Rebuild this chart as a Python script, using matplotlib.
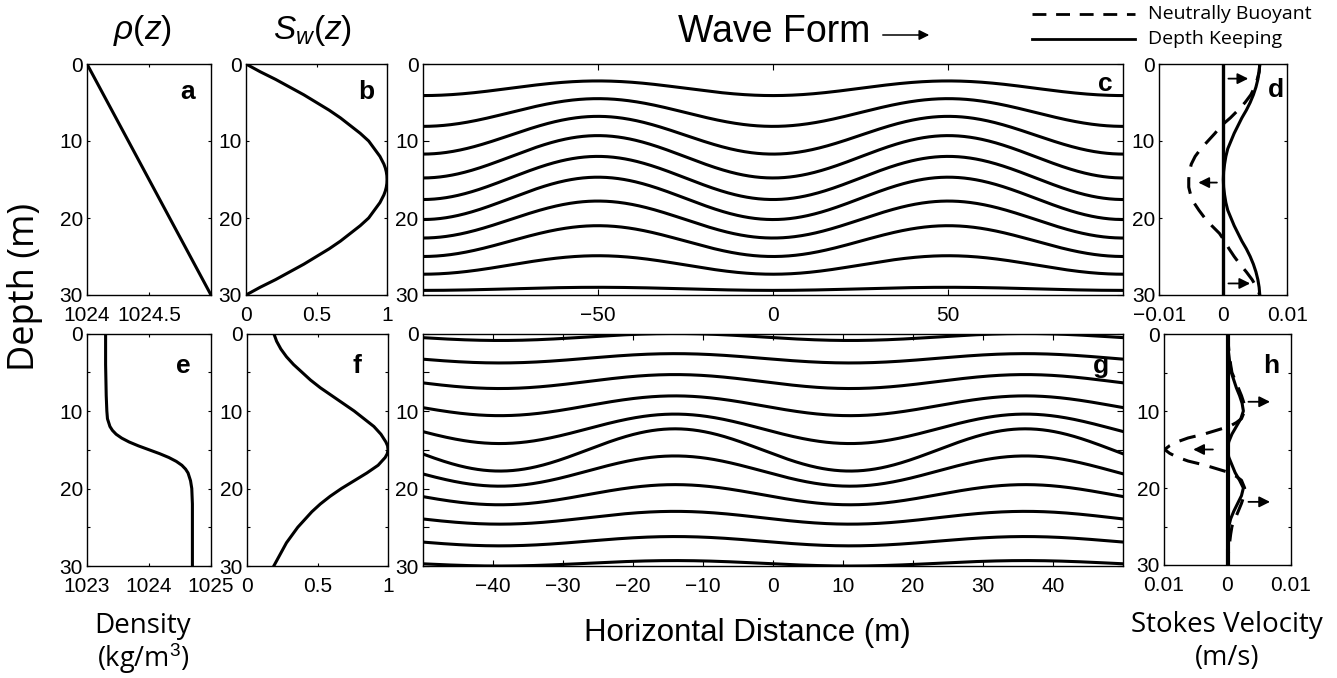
import matplotlib
matplotlib.use('Agg')
import matplotlib.pyplot as plt
import numpy as np
from matplotlib.lines import Line2D
from matplotlib.patches import FancyArrowPatch

plt.rcParams['font.family'] = ['Liberation Sans', 'DejaVu Sans']
plt.rcParams['mathtext.fontset'] = 'custom'
plt.rcParams['mathtext.rm'] = 'Liberation Sans'
plt.rcParams['mathtext.it'] = 'Liberation Sans:italic'

# ---------------- data ----------------
# panel a: linear density
a_depth = [0, 30]
a_density = [1024.0, 1025.0]

# panel b: vertical structure S_w(z)
b_depth = [0, 1, 2, 3, 4, 5, 6, 7, 8, 9, 10, 11, 12, 13, 13.5, 14, 14.5, 15,
           15.5, 16, 16.5, 17, 18, 19, 20, 21, 22, 23, 24, 25, 26, 27, 28, 29, 30]
b_sw = [0.00, 0.10, 0.21, 0.31, 0.41, 0.50, 0.59, 0.67, 0.74, 0.81, 0.87,
        0.91, 0.95, 0.978, 0.988, 0.995, 0.999, 1.00, 0.999, 0.995, 0.988,
        0.978, 0.95, 0.91, 0.87, 0.81, 0.74, 0.67, 0.59, 0.50, 0.41, 0.31,
        0.21, 0.10, 0.00]

# panel c: isopycnal displacement, crest / trough depths per line
c_crest_depth = [2.2, 4.5, 6.8, 9.3, 12.0, 14.7, 17.8, 21.0, 24.9, 29.0]
c_trough_depth = [4.1, 8.1, 11.7, 14.8, 17.6, 20.2, 22.6, 25.0, 27.3, 29.4]
c_wavelength = 100.0
c_trough_x = 0.0

# panel d: Stokes velocity (m/s)
d_depth = [0, 1, 2, 3, 4, 5, 6, 7, 8, 9, 10, 11, 12, 13, 14, 15,
           16, 17, 18, 19, 20, 21, 22, 23, 24, 25, 26, 27, 28, 29, 30]
d_depth_keeping = [0.0057, 0.0056, 0.0054, 0.0051, 0.0047, 0.0042, 0.0036,
                   0.0029, 0.0023, 0.0017, 0.0012, 0.0007, 0.0004, 0.0002,
                   0.00005, 0.0, 0.00005, 0.0002, 0.0004, 0.0007, 0.0012,
                   0.0017, 0.0023, 0.0029, 0.0036, 0.0042, 0.0047, 0.0051,
                   0.0054, 0.0056, 0.0057]
d_neutral = [0.0057, 0.0056, 0.0053, 0.0049, 0.0043, 0.0034, 0.0023, 0.0011,
             -0.0003, -0.0013, -0.0024, -0.0035, -0.0044, -0.0050, -0.0053,
             -0.0054, -0.0054, -0.0051, -0.0046, -0.0038, -0.0029, -0.0018,
             -0.0006, 0.0002, 0.0009, 0.0017, 0.0026, 0.0036, 0.0045,
             0.0052, 0.0057]

# panel e: pycnocline density
e_depth = [0, 4, 8, 10, 11, 12, 12.5, 13, 13.5, 14, 14.5, 15, 15.5, 16,
           16.5, 17, 17.5, 18, 19, 20, 22, 26, 30]
e_density = [1023.30, 1023.30, 1023.31, 1023.32, 1023.33, 1023.37, 1023.41,
             1023.47, 1023.56, 1023.68, 1023.83, 1024.00, 1024.17, 1024.32,
             1024.44, 1024.53, 1024.59, 1024.63, 1024.67, 1024.69, 1024.70,
             1024.70, 1024.70]

# panel f: S_w(z) for the pycnocline case
f_depth = [0, 1, 2, 3, 4, 5, 6, 7, 8, 9, 10, 11, 12, 13, 14, 14.5, 15, 15.5,
           16, 17, 18, 19, 20, 21, 22, 23, 24, 25, 26, 27, 28, 29, 30]
f_sw = [0.19, 0.21, 0.24, 0.28, 0.33, 0.39, 0.45, 0.52, 0.60, 0.68, 0.76,
        0.83, 0.90, 0.95, 0.985, 0.997, 1.00, 0.995, 0.98, 0.93, 0.85, 0.76,
        0.67, 0.59, 0.52, 0.46, 0.41, 0.36, 0.32, 0.28, 0.25, 0.22, 0.19]

# panel g: isopycnal displacement, crest / trough depths per line
g_crest_depth = [0.0, 2.6, 5.3, 8.05, 10.4, 12.3, 15.8, 19.5, 22.95, 26.2, 29.3]
g_trough_depth = [0.9, 3.8, 7.1, 10.6, 14.2, 17.75, 19.7, 22.1, 24.6, 27.4, 30.0]
g_wavelength = 50.0
g_trough_x = 11.0

# panel h: Stokes velocity (m/s)
h_dk_depth = [0, 2, 4, 5, 6, 7, 8, 9, 10, 11, 12, 13, 14, 15, 16, 17, 18,
              19, 20, 21, 22, 23, 24, 25, 26, 28, 30]
h_depth_keeping = [0, 0.0001, 0.0004, 0.0006, 0.0010, 0.0014, 0.0019, 0.0023,
                   0.0025, 0.0021, 0.0014, 0.0007, 0.0002, 0.0, 0.0002, 0.0007,
                   0.0012, 0.0019, 0.0025, 0.0022, 0.0016, 0.0010, 0.0005,
                   0.0002, 0.0001, 0.0, 0.0]
h_nb_depth = [0, 2, 4, 5, 6, 7, 8, 9, 10, 11, 11.5, 12, 12.5, 13, 13.5, 14,
              14.5, 15, 15.5, 16, 16.5, 17, 17.5, 18, 18.5, 19, 20, 21, 22,
              23, 24, 25, 26, 28, 30]
h_neutral = [0, 0.0002, 0.0005, 0.0007, 0.0012, 0.0017, 0.0022, 0.0026,
             0.0027, 0.0022, 0.0014, 0.0003, -0.0017, -0.0037, -0.0062,
             -0.0079, -0.0091, -0.0099, -0.0091, -0.0079, -0.0062, -0.0037,
             -0.0017, 0.0003, 0.0014, 0.0022, 0.0027, 0.0026, 0.0022,
             0.0017, 0.0012, 0.0007, 0.0005, 0.0002, 0]

# Stokes-drift direction arrows: (tail_u, head_u, depth)
d_arrows = [(0.0008, 0.0039, 1.9), (-0.0010, -0.0039, 15.4), (0.0008, 0.0042, 28.5)]
h_arrows = [(0.0033, 0.0067, 8.8), (-0.0023, -0.0054, 15.0), (0.0033, 0.0067, 21.8)]

# ---------------- figure ----------------
W, H = 1337, 678
fig = plt.figure(figsize=(W / 100, H / 100), dpi=100)


def ax_at(l, r, t, b):
    return fig.add_axes([l / W, 1 - b / H, (r - l) / W, (b - t) / H])


def fx(px):
    return px / W


def fy(py):
    return 1 - py / H


LW = 2.2
DASH = (5.5, 3.5)
TICKFS = 15


def style(ax, ticklen, bottom_row):
    ax.set_ylim(30, 0)
    ax.tick_params(direction='in', top=True, right=True, length=ticklen,
                   width=0.8, labelsize=TICKFS)
    ax.tick_params(axis='x', pad=8)
    ax.tick_params(axis='y', pad=3)
    for s in ax.spines.values():
        s.set_linewidth(1.0)
    if bottom_row:
        ax.set_yticks([0, 5, 10, 15, 20, 25, 30])
        ax.set_yticklabels(['0', '', '10', '', '20', '', '30'])
    else:
        ax.set_yticks([0, 10, 20, 30])
        ax.set_yticklabels(['0', '10', '20', '30'])


def label(txt, x, y):
    fig.text(fx(x), fy(y), txt, fontsize=19, fontweight='bold',
             ha='center', va='baseline')


# panel a
ax = ax_at(87, 211, 64, 295)
ax.plot(a_density, a_depth, 'k-', lw=LW)
ax.set_xlim(1024, 1025)
ax.set_xticks([1024, 1024.5, 1025])
ax.set_xticklabels(['1024', '1024.5', ''])
style(ax, 2.5, False)
label('a', 188, 99)

# panel b
ax = ax_at(246, 387, 64, 295)
ax.plot(b_sw, b_depth, 'k-', lw=LW)
ax.set_xlim(0, 1)
ax.set_xticks([0, 0.5, 1])
ax.set_xticklabels(['0', '0.5', '1'])
style(ax, 2.5, False)
label('b', 366, 99)

# panel c
ax = ax_at(422.7, 1123.3, 64, 295)
xc = np.linspace(-100, 100, 600)
for cr, tr in zip(c_crest_depth, c_trough_depth):
    mid = (cr + tr) / 2
    half = (tr - cr) / 2
    ax.plot(xc, mid + half * np.cos(2 * np.pi * (xc - c_trough_x) / c_wavelength),
            'k-', lw=LW)
ax.set_xlim(-100, 100)
ax.set_xticks([-50, 0, 50])
ax.set_xticklabels(['\u221250', '0', '50'])
style(ax, 4.5, False)
label('c', 1105, 91)

# panel d
ax = ax_at(1159.3, 1287.3, 64, 295)
ax.axvline(0, color='k', lw=2.4)
ax.plot(d_depth_keeping, d_depth, 'k-', lw=LW)
ln, = ax.plot(d_neutral, d_depth, 'k-', lw=LW)
ln.set_dashes(DASH)
for t, hd, z in d_arrows:
    ax.annotate('', xy=(hd, z), xytext=(t, z),
                arrowprops=dict(arrowstyle='-|>', color='k', lw=1.3,
                                mutation_scale=16, shrinkA=0, shrinkB=0))
ax.set_xlim(-0.01, 0.01)
ax.set_xticks([-0.01, 0, 0.01])
ax.set_xticklabels(['\u22120.01', '0', '0.01'])
style(ax, 2.5, False)
label('d', 1276, 97)

# panel e
ax = ax_at(87, 211, 333.5, 566)
ax.plot(e_density, e_depth, 'k-', lw=LW)
ax.set_xlim(1023, 1025)
ax.set_xticks([1023, 1024, 1025])
ax.set_xticklabels(['1023', '1024', '1025'])
style(ax, 2.5, True)
label('e', 183, 373)

# panel f
ax = ax_at(247, 388, 333.5, 566)
ax.plot(f_sw, f_depth, 'k-', lw=LW)
ax.set_xlim(0, 1)
ax.set_xticks([0, 0.5, 1])
ax.set_xticklabels(['0', '0.5', '1'])
style(ax, 2.5, True)
label('f', 357, 373)

# panel g
ax = ax_at(422.7, 1123.3, 333.5, 566)
xg = np.linspace(-50, 50, 600)
for cr, tr in zip(g_crest_depth, g_trough_depth):
    mid = (cr + tr) / 2
    half = (tr - cr) / 2
    ax.plot(xg, mid + half * np.cos(2 * np.pi * (xg - g_trough_x) / g_wavelength),
            'k-', lw=LW)
ax.set_xlim(-50, 50)
ax.set_xticks([-40, -30, -20, -10, 0, 10, 20, 30, 40])
ax.set_xticklabels(['\u221240', '\u221230', '\u221220', '\u221210', '0',
                    '10', '20', '30', '40'])
style(ax, 4.5, True)
label('g', 1101, 373)

# panel h
ax = ax_at(1164, 1291, 334, 565)
ax.axvline(0, color='k', lw=3.0)
ax.plot(h_depth_keeping, h_dk_depth, 'k-', lw=LW)
ln, = ax.plot(h_neutral, h_nb_depth, 'k-', lw=LW)
ln.set_dashes(DASH)
for t, hd, z in h_arrows:
    ax.annotate('', xy=(hd, z), xytext=(t, z),
                arrowprops=dict(arrowstyle='-|>', color='k', lw=1.3,
                                mutation_scale=16, shrinkA=0, shrinkB=0))
ax.set_xlim(-0.01, 0.01)
ax.set_xticks([-0.01, 0, 0.01])
ax.set_xticklabels(['0.01', '0', '0.01'])
style(ax, 2.5, True)
label('h', 1271, 373)

# ---------------- titles and labels ----------------
fig.text(fx(142), fy(31), r'$\rho(z)$', fontsize=24, ha='center', va='center')
fig.text(fx(312), fy(31), r'$S_w(z)$', fontsize=24, ha='center', va='center')
fig.text(fx(678), fy(32), 'Wave Form', fontsize=27, ha='left', va='center')
fig.add_artist(FancyArrowPatch((fx(880), fy(35)), (fx(932), fy(35)),
                               transform=fig.transFigure, arrowstyle='-|>',
                               mutation_scale=15, lw=1.1, color='k'))

hum = ['Open Sans', 'DejaVu Sans']
fig.text(fx(25), fy(287), 'Depth (m)', fontsize=26, rotation=90,
         ha='center', va='center', family=hum)
fig.text(fx(143), fy(626), 'Density', fontsize=20, ha='center', va='center',
         family=hum)
fig.text(fx(143), fy(659), '(kg/m$^3$)', fontsize=19.5, ha='center',
         va='center', family=hum)
fig.text(fx(747), fy(633), 'Horizontal Distance (m)', fontsize=22.5,
         ha='center', va='center')
fig.text(fx(1227), fy(625), 'Stokes Velocity', fontsize=20, ha='center',
         va='center', family=hum)
fig.text(fx(1227), fy(658), '(m/s)', fontsize=19.5, ha='center', va='center',
         family=hum)

# legend
leg_dash = Line2D([fx(1032), fx(1135)], [fy(14), fy(14)], color='k', lw=2.0,
                  transform=fig.transFigure)
leg_dash.set_dashes((5, 3.5))
fig.add_artist(leg_dash)
fig.add_artist(Line2D([fx(1032), fx(1135)], [fy(39), fy(39)], color='k',
                      lw=2.0, transform=fig.transFigure))
fig.text(fx(1148), fy(14), 'Neutrally Buoyant', fontsize=14, ha='left',
         va='center', family=hum)
fig.text(fx(1148), fy(39), 'Depth Keeping', fontsize=14, ha='left',
         va='center', family=hum)

fig.savefig('out.png', dpi=100)
